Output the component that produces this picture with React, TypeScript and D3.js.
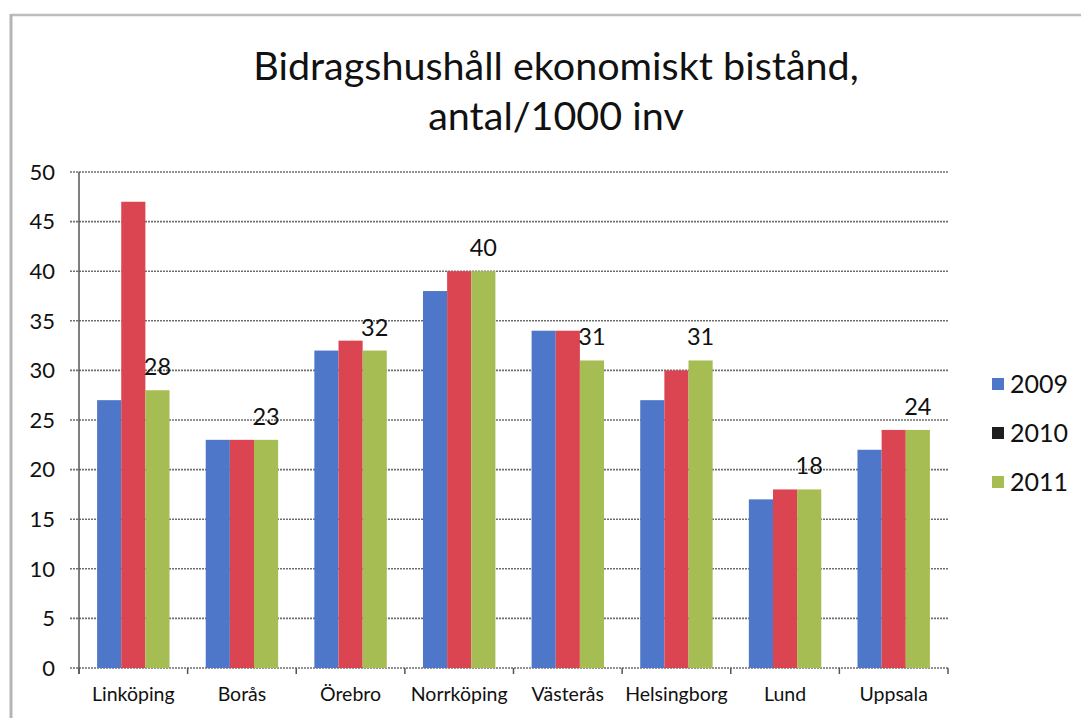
import React from 'react';
import * as d3 from 'd3';

// ==== data

const cities = ['Linköping', 'Borås', 'Örebro', 'Norrköping', 'Västerås', 'Helsingborg', 'Lund', 'Uppsala'];
const years = ['2009', '2010', '2011'];
const values2009 = [27, 23, 32, 38, 34, 27, 17, 22];
const values2010 = [47, 23, 33, 40, 34, 30, 18, 24];
const values2011 = [28, 23, 32, 40, 31, 31, 18, 24];
const yTicks = [0, 5, 10, 15, 20, 25, 30, 35, 40, 45, 50];

const seriesColors = ['#4f77c9', '#db4552', '#a5bd52'];
const legendColors = ['#4f77c9', '#1e1e1e', '#a5bd52'];

const FONT = "Lato, 'Open Sans', sans-serif";

// ====

const App = () => {
    const width = 1081;
    const height = 718;
    const left = 79;
    const right = 948;
    const top = 172;
    const bottom = 668;

    const series = [values2009, values2010, values2011];
    const rows = cities.map((city, i) => ({ city, vals: series.map((s) => s[i]) }));

    const x0 = d3.scaleBand().domain(cities).range([left, right]).paddingInner(1 / 3).paddingOuter(1 / 6);
    const x1 = d3.scaleBand().domain(years).range([0, x0.bandwidth()]);
    const y = d3.scaleLinear().domain([0, 50]).range([bottom, top]);

    const step = x0.step();
    const boundaries = d3.range(cities.length + 1).map((i) => left + i * step);

    return (
        <svg width={width} height={height} style={{ position: 'absolute', left: 0, top: 0 }}>
            <rect x={0} y={0} width={width} height={height} fill="#fff" />
            {/* frame */}
            <line x1={11} x2={width} y1={15} y2={15} stroke="#bdbdbd" strokeWidth={2.5} />
            <line x1={11} x2={11} y1={14} y2={height} stroke="#b5b5b5" strokeWidth={3} />

            {/* title */}
            <text x={556} y={80} textAnchor="middle" fontFamily={FONT} fontSize={39.5} fill="#111">
                Bidragshushåll ekonomiskt bistånd,
            </text>
            <text x={556} y={130} textAnchor="middle" fontFamily={FONT} fontSize={39.5} fill="#111">
                antal/1000 inv
            </text>

            {/* grid + y axis */}
            {yTicks.map((t) => (
                <g key={t}>
                    <line x1={70} x2={right} y1={y(t)} y2={y(t)} stroke="#6f6f6f" strokeWidth={1.6} strokeDasharray="2,1" />
                    <text x={55} y={y(t)} dy="0.35em" textAnchor="end" fontFamily={FONT} fontSize={22} fill="#111">{t}</text>
                </g>
            ))}
            <line x1={left} x2={left} y1={top} y2={bottom + 6} stroke="#555" strokeWidth={1.5} />
            {boundaries.map((b, i) => (
                <line key={i} x1={b} x2={b} y1={bottom} y2={bottom + 6} stroke="#555" strokeWidth={1.5} />
            ))}

            {/* bars */}
            {rows.map((r) => (
                <g key={r.city} transform={`translate(${x0(r.city)},0)`}>
                    {r.vals.map((v, j) => (
                        <rect key={j} x={x1(years[j])} y={y(v)} width={x1.bandwidth()} height={y(0) - y(v)} fill={seriesColors[j]} />
                    ))}
                    <text x={(x1('2011') as number) + x1.bandwidth() / 2} y={y(r.vals[2]) - 15} textAnchor="middle"
                        fontFamily={FONT} fontSize={23.5} fill="#111">{r.vals[2]}</text>
                    <text x={x0.bandwidth() / 2} y={701} textAnchor="middle" fontFamily={FONT} fontSize={19.5} fill="#111">{r.city}</text>
                </g>
            ))}

            {/* legend */}
            {years.map((yr, i) => (
                <g key={yr} transform={`translate(992,${384 + i * 49})`}>
                    <rect x={0} y={-6} width={12} height={12} fill={legendColors[i]} />
                    <text x={18} y={0} dy="0.35em" fontFamily={FONT} fontSize={25} fill="#111">{yr}</text>
                </g>
            ))}
        </svg>
    );
};

export default App;
